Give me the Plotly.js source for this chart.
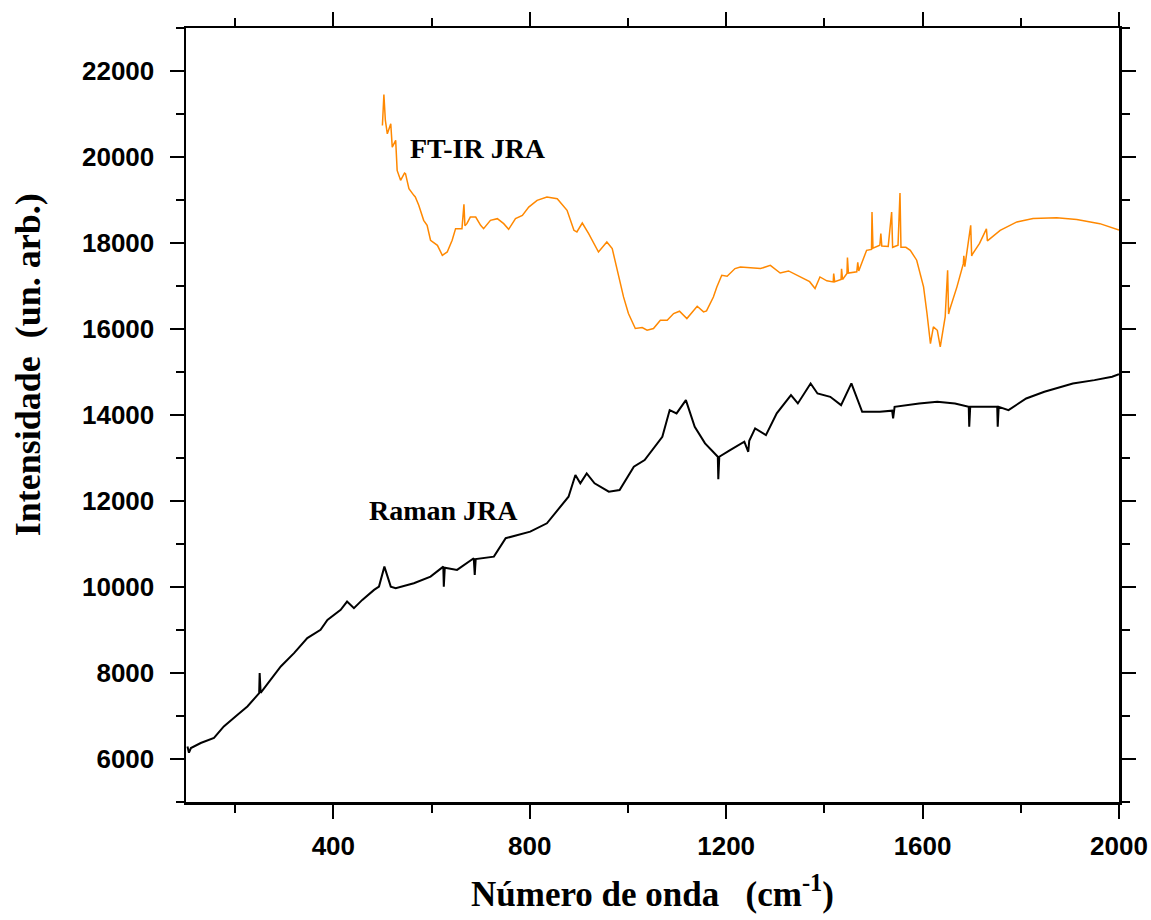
<!DOCTYPE html>
<html>
<head>
<meta charset="utf-8">
<script src="https://cdn.plot.ly/plotly-3.0.1.min.js"></script>
<style>html,body{margin:0;padding:0;background:#fff;}#chart{width:1151px;height:920px;}</style>
</head>
<body>
<div id="chart"></div>
<script>
// FT-IR JRA spectrum
var ftirX = [500,503,506,510,517,520,527,530,537,545,547,554,564,567,574,584,591,598,612,622,632,642,649,662,666,668,672,679,690,700,706,720,734,747,757,771,785,798,815,835,856,876,890,896,907,920,940,957,968,978,991,1001,1015,1029,1039,1052,1066,1080,1093,1105,1120,1141,1154,1160,1174,1181,1191,1202,1218,1229,1250,1270,1290,1310,1327,1351,1370,1381,1391,1405,1418,1419,1421,1434,1435,1437,1446,1447,1449,1466,1468,1470,1486,1496,1497,1499,1513,1515,1517,1530,1537,1539,1550,1554,1556,1566,1575,1588,1602,1609,1616,1622,1630,1636,1646,1651,1653,1655,1670,1683,1684,1686,1698,1700,1702,1716,1730,1732,1758,1792,1825,1873,1914,1961,1995,2000];
var ftirY = [20734,21454,20850,20540,20773,20230,20386,19689,19457,19627,19612,19264,19108,19070,18876,18527,18411,18063,17946,17714,17791,18063,18334,18334,18899,18400,18450,18604,18604,18411,18334,18527,18566,18450,18318,18566,18643,18836,18992,19070,19030,18760,18295,18257,18465,18218,17791,18024,17870,17366,16746,16360,16012,16035,15973,16012,16205,16205,16360,16413,16243,16529,16398,16420,16745,16978,17250,17226,17405,17442,17420,17405,17480,17303,17350,17210,17100,16940,17210,17120,17094,17289,17100,17150,17400,17150,17290,17660,17300,17330,17550,17350,17830,17850,18720,17880,17950,18220,17930,17920,18720,17900,17950,19162,17900,17900,17830,17600,16980,16360,15660,16050,15970,15585,16280,17366,16350,16440,16980,17520,17700,17450,18410,17700,17750,17990,18330,18050,18295,18490,18570,18590,18545,18450,18330,18300];

// Raman JRA spectrum
var ramanX = [103,106,110,130,157,177,205,225,249,250,252,272,293,320,347,374,388,415,428,442,459,483,493,504,517,527,564,598,624,625,627,652,686,688,690,727,751,801,835,879,893,903,916,932,961,983,1012,1034,1070,1085,1099,1118,1136,1157,1183,1184,1186,1208,1237,1245,1247,1259,1281,1303,1332,1346,1372,1386,1412,1434,1455,1477,1513,1538,1540,1543,1593,1630,1666,1694,1695,1697,1752,1753,1755,1775,1811,1848,1906,1950,1986,2000];
var ramanY = [6293,6146,6255,6372,6488,6757,7029,7222,7533,7998,7540,7842,8151,8462,8811,9003,9236,9468,9661,9507,9700,9933,10009,10474,10009,9972,10088,10241,10474,10009,10450,10397,10669,10281,10650,10706,11134,11287,11482,12100,12604,12411,12643,12411,12216,12255,12797,12953,13494,14114,14037,14346,13726,13340,13030,12504,13030,13185,13378,13145,13400,13689,13533,14037,14462,14269,14734,14501,14423,14230,14734,14074,14074,14100,13920,14190,14269,14307,14269,14190,13726,14190,14190,13726,14190,14114,14385,14539,14734,14811,14889,14950];

var xTickVals = [400, 800, 1200, 1600, 2000];
var xTickText = ['400', '800', '1200', '1600', '2000'];
var yTickVals = [6000, 8000, 10000, 12000, 14000, 16000, 18000, 20000, 22000];
var yTickText = ['6000', '8000', '10000', '12000', '14000', '16000', '18000', '20000', '22000'];

var traces = [
  {x: ramanX, y: ramanY, type: 'scatter', mode: 'lines', name: 'Raman JRA',
   line: {color: '#000000', width: 2}},
  {x: ftirX, y: ftirY, type: 'scatter', mode: 'lines', name: 'FT-IR JRA',
   line: {color: '#FF8800', width: 1.5}}
];

var tickFont = {family: 'Liberation Sans, Arial, sans-serif', size: 26, color: '#000', weight: 'bold'};
var titleFont = {family: 'Liberation Serif, Times New Roman, serif', size: 35, color: '#000', weight: 'bold'};

var layout = {
  width: 1151, height: 920,
  margin: {l: 186, r: 32, t: 28, b: 118},
  paper_bgcolor: '#fff', plot_bgcolor: '#fff',
  showlegend: false,
  xaxis: {
    range: [100, 2000], tickmode: 'array', tickvals: xTickVals, ticktext: xTickText,
    ticks: 'outside', ticklen: 14, tickwidth: 2, tickcolor: '#000',
    showline: true, linewidth: 2.5, linecolor: '#000', mirror: 'allticks',
    showgrid: false, zeroline: false, tickfont: tickFont, ticklabelstandoff: 5,
    minor: {dtick: 200, tick0: 0, ticks: 'outside', ticklen: 8, tickwidth: 2, tickcolor: '#000', showgrid: false},
    title: {text: 'Número de onda\u00a0\u00a0\u00a0(cm<sup>-1</sup>)', font: titleFont, standoff: 22}
  },
  yaxis: {
    range: [5000, 23000], tickmode: 'array', tickvals: yTickVals, ticktext: yTickText,
    ticks: 'outside', ticklen: 14, tickwidth: 2, tickcolor: '#000',
    showline: true, linewidth: 2.5, linecolor: '#000', mirror: 'allticks',
    showgrid: false, zeroline: false, tickfont: tickFont, ticklabelstandoff: 10,
    minor: {dtick: 1000, tick0: 0, ticks: 'outside', ticklen: 8, tickwidth: 2, tickcolor: '#000', showgrid: false}
  },
  annotations: [
    {text: 'Intensidade\u00a0\u00a0(un. arb.)', xref: 'paper', yref: 'paper', x: -0.169, y: 0.5646,
     xanchor: 'center', yanchor: 'middle', textangle: -90, showarrow: false, font: {family: 'Liberation Serif, Times New Roman, serif', size: 36, color: '#000', weight: 'bold'}},
    {text: 'FT-IR JRA', xref: 'paper', yref: 'paper', x: 0.238, y: 0.8437, xanchor: 'left', yanchor: 'middle',
     showarrow: false, font: {family: 'Liberation Serif, Times New Roman, serif', size: 28, color: '#000', weight: 'bold'}},
    {text: 'Raman JRA', xref: 'paper', yref: 'paper', x: 0.194, y: 0.376, xanchor: 'left', yanchor: 'middle',
     showarrow: false, font: {family: 'Liberation Serif, Times New Roman, serif', size: 28, color: '#000', weight: 'bold'}}
  ]
};

Plotly.newPlot('chart', traces, layout, {staticPlot: true, displayModeBar: false});
</script>
</body>
</html>
